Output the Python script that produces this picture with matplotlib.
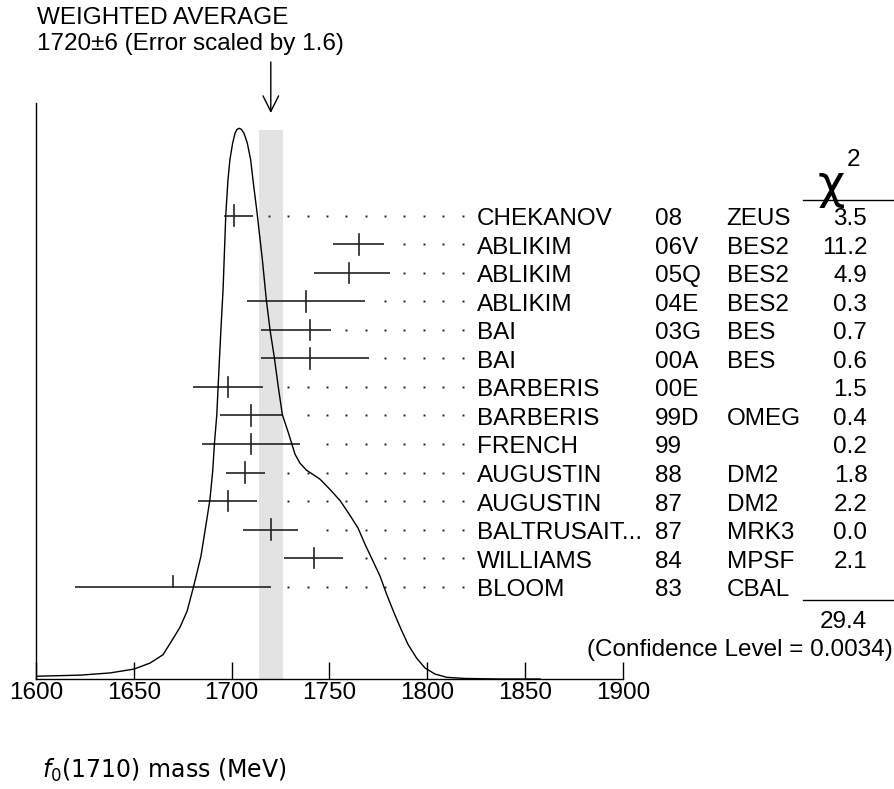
import matplotlib
matplotlib.use("Agg")
import matplotlib.pyplot as plt
import matplotlib.transforms as mtransforms
from matplotlib.lines import Line2D
import numpy as np

# ---------------- data ----------------
authors = ["CHEKANOV", "ABLIKIM", "ABLIKIM", "ABLIKIM", "BAI", "BAI", "BARBERIS",
           "BARBERIS", "FRENCH", "AUGUSTIN", "AUGUSTIN", "BALTRUSAIT...", "WILLIAMS", "BLOOM"]
years = ["08", "06V", "05Q", "04E", "03G", "00A", "00E", "99D", "99", "88", "87", "87", "84", "83"]
experiments = ["ZEUS", "BES2", "BES2", "BES2", "BES", "BES", "", "OMEG", "", "DM2", "DM2", "MRK3", "MPSF", "CBAL"]
chi2 = ["3.5", "11.2", "4.9", "0.3", "0.7", "0.6", "1.5", "0.4", "0.2", "1.8", "2.2", "0.0", "2.1", ""]
values = [1701, 1765, 1760, 1738, 1740, 1740, 1698, 1710, 1710, 1707, 1698, 1720, 1742, 1670]
err_lo = [5, 13, 18, 30, 25, 25, 18, 16, 25, 10, 15, 14, 15, 50]
err_hi = [10, 13, 21, 30, 11, 30, 18, 16, 25, 10, 15, 14, 15, 50]
used = [True] * 13 + [False]

avg_value = 1720
avg_err = 6
chi2_total = "29.4"
conf_level = "(Confidence Level = 0.0034)"

# ideogram curve (mass, height relative to peak)
curve_mass = [1600.0, 1622.5, 1637.8, 1650.1, 1658.3, 1664.9, 1670.0, 1673.6, 1677.2, 1680.7,
              1684.3, 1686.6, 1688.9, 1690.3, 1691.2, 1692.4, 1693.5, 1694.5, 1695.6, 1697.0,
              1698.1, 1699.1, 1700.5, 1701.7, 1702.7, 1703.9, 1705.0, 1706.3, 1708.0, 1709.7,
              1711.2, 1712.8, 1715.7, 1717.7, 1719.6, 1721.8, 1723.8, 1725.9, 1728.9, 1732.4,
              1734.9, 1738.3, 1745.1, 1750.3, 1755.4, 1760.5, 1764.6, 1768.1, 1771.7, 1775.8,
              1779.4, 1783.0, 1786.5, 1790.1, 1794.5, 1798.8, 1803.9, 1810.0, 1819.2, 1837.1,
              1857.6]
curve_height = [0.005, 0.007, 0.011, 0.018, 0.029, 0.044, 0.073, 0.094, 0.123, 0.170,
                0.223, 0.274, 0.326, 0.377, 0.428, 0.480, 0.562, 0.634, 0.707, 0.843,
                0.906, 0.943, 0.973, 0.991, 0.998, 1.000, 0.998, 0.991, 0.973, 0.943,
                0.897, 0.852, 0.761, 0.689, 0.634, 0.584, 0.531, 0.480, 0.448, 0.408,
                0.392, 0.379, 0.363, 0.344, 0.324, 0.297, 0.274, 0.245, 0.218, 0.187,
                0.152, 0.120, 0.091, 0.063, 0.038, 0.020, 0.009, 0.003, 0.001, 0.0,
                0.0]

xticks = [1600, 1650, 1700, 1750, 1800, 1850, 1900]

# ---------------- layout ----------------
W, H = 895, 789
FONT = "Liberation Sans"
FS = 17.5

fig = plt.figure(figsize=(W / 100, H / 100), dpi=100)

axis_y = 679.0   # pixel row of x axis
top_y = 103.0    # top of left axis line
row0 = 215.7
row_dy = 28.54
peak_y = 128.3

def fy(py):
    return 1 - py / H

def prow(py):
    return (py - row0) / row_dy

ax = fig.add_axes([36 / W, 1 - axis_y / H, (623 - 36) / W, (axis_y - top_y) / H])
ax.set_xlim(1600, 1900)
ax.set_ylim(prow(axis_y), prow(top_y))
ax.patch.set_alpha(0)

for s in ["top", "right"]:
    ax.spines[s].set_visible(False)
ax.spines["left"].set_linewidth(1.0)
ax.spines["bottom"].set_linewidth(1.0)
ax.set_yticks([])
ax.set_xticks(xticks)
ax.set_xticklabels([str(t) for t in xticks], fontsize=FS, family=FONT)
ax.tick_params(axis="x", direction="in", length=12, width=1.0, pad=2)

# band for weighted average
band_top = (axis_y - 130) / (axis_y - top_y)
ax.axvspan(avg_value - avg_err, avg_value + avg_err, ymin=0, ymax=band_top,
           color="#e3e3e3", lw=0, zorder=0)

# ideogram curve on twin axis
ax2 = ax.twinx()
ax2.set_ylim(0, (axis_y - top_y) / (axis_y - peak_y))
ax2.set_yticks([])
for s in ax2.spines.values():
    s.set_visible(False)
ax2.plot(curve_mass, curve_height, color="black", lw=1.0, zorder=3)

# measurements
dot_end = 1818.0
dot_step = 9.9
for i, (v, lo, hi, u) in enumerate(zip(values, err_lo, err_hi, used)):
    ax.plot([v - lo, v + hi], [i, i], color="#222222", lw=1.2, solid_capstyle="butt", zorder=4)
    if u:
        ax.plot([v, v], [i - 0.36, i + 0.36], color="#222222", lw=1.2, zorder=4)
    else:
        ax.plot([v, v], [i - 0.36, i], color="#222222", lw=1.2, zorder=4)
    dots = []
    d = dot_end
    while d > v + hi + 6:
        dots.append(d)
        d -= dot_step
    ax.plot(dots, [i] * len(dots), ls="none", marker="s", ms=1.4, color="#222222",
            mew=0, zorder=4, clip_on=False)

# arrow for weighted average
ax.annotate("", xy=(avg_value, prow(113)), xytext=(avg_value, prow(62)),
            annotation_clip=False,
            arrowprops=dict(arrowstyle="->", lw=1.0, color="black", mutation_scale=28,
                            shrinkA=0, shrinkB=0))

# text columns
trans = mtransforms.blended_transform_factory(fig.transFigure, ax.transData)
base_off = 0.33
for i in range(len(authors)):
    yb = i + base_off
    ax.text(476.7 / W, yb, authors[i], transform=trans, fontsize=FS, family=FONT,
            va="baseline", ha="left", clip_on=False)
    ax.text(655 / W, yb, years[i], transform=trans, fontsize=FS, family=FONT,
            va="baseline", ha="left", clip_on=False)
    ax.text(726.7 / W, yb, experiments[i], transform=trans, fontsize=FS, family=FONT,
            va="baseline", ha="left", clip_on=False)
    ax.text(867.3 / W, yb, chi2[i], transform=trans, fontsize=FS, family=FONT,
            va="baseline", ha="right", clip_on=False)

# chi2 header
fig.text(831 / W, fy(186), "χ", fontsize=34, family="DejaVu Sans",
         ha="center", va="center")
fig.text(854 / W, fy(160), "2", fontsize=FS, family=FONT, ha="center", va="center")
fig.add_artist(Line2D([803 / W, 1.0], [fy(200), fy(200)], color="black", lw=1.0))
fig.add_artist(Line2D([803 / W, 1.0], [fy(600), fy(600)], color="black", lw=1.0))
fig.text(867.3 / W, fy(621.7), chi2_total, fontsize=FS, family=FONT, ha="right", va="center")
fig.text(893 / W, fy(650), conf_level, fontsize=FS, family=FONT, ha="right", va="center")

# top labels
fig.text(36.7 / W, fy(18), "WEIGHTED AVERAGE", fontsize=FS, family=FONT, ha="left", va="center")
fig.text(36.7 / W, fy(44), "%d±%d (Error scaled by 1.6)" % (avg_value, avg_err),
         fontsize=FS, family=FONT, ha="left", va="center")

# x label
fig.text(42 / W, fy(770), r"$f_0$(1710) mass (MeV)", fontsize=17, family="DejaVu Sans",
         ha="left", va="center")

fig.savefig("out.png", dpi=100)
